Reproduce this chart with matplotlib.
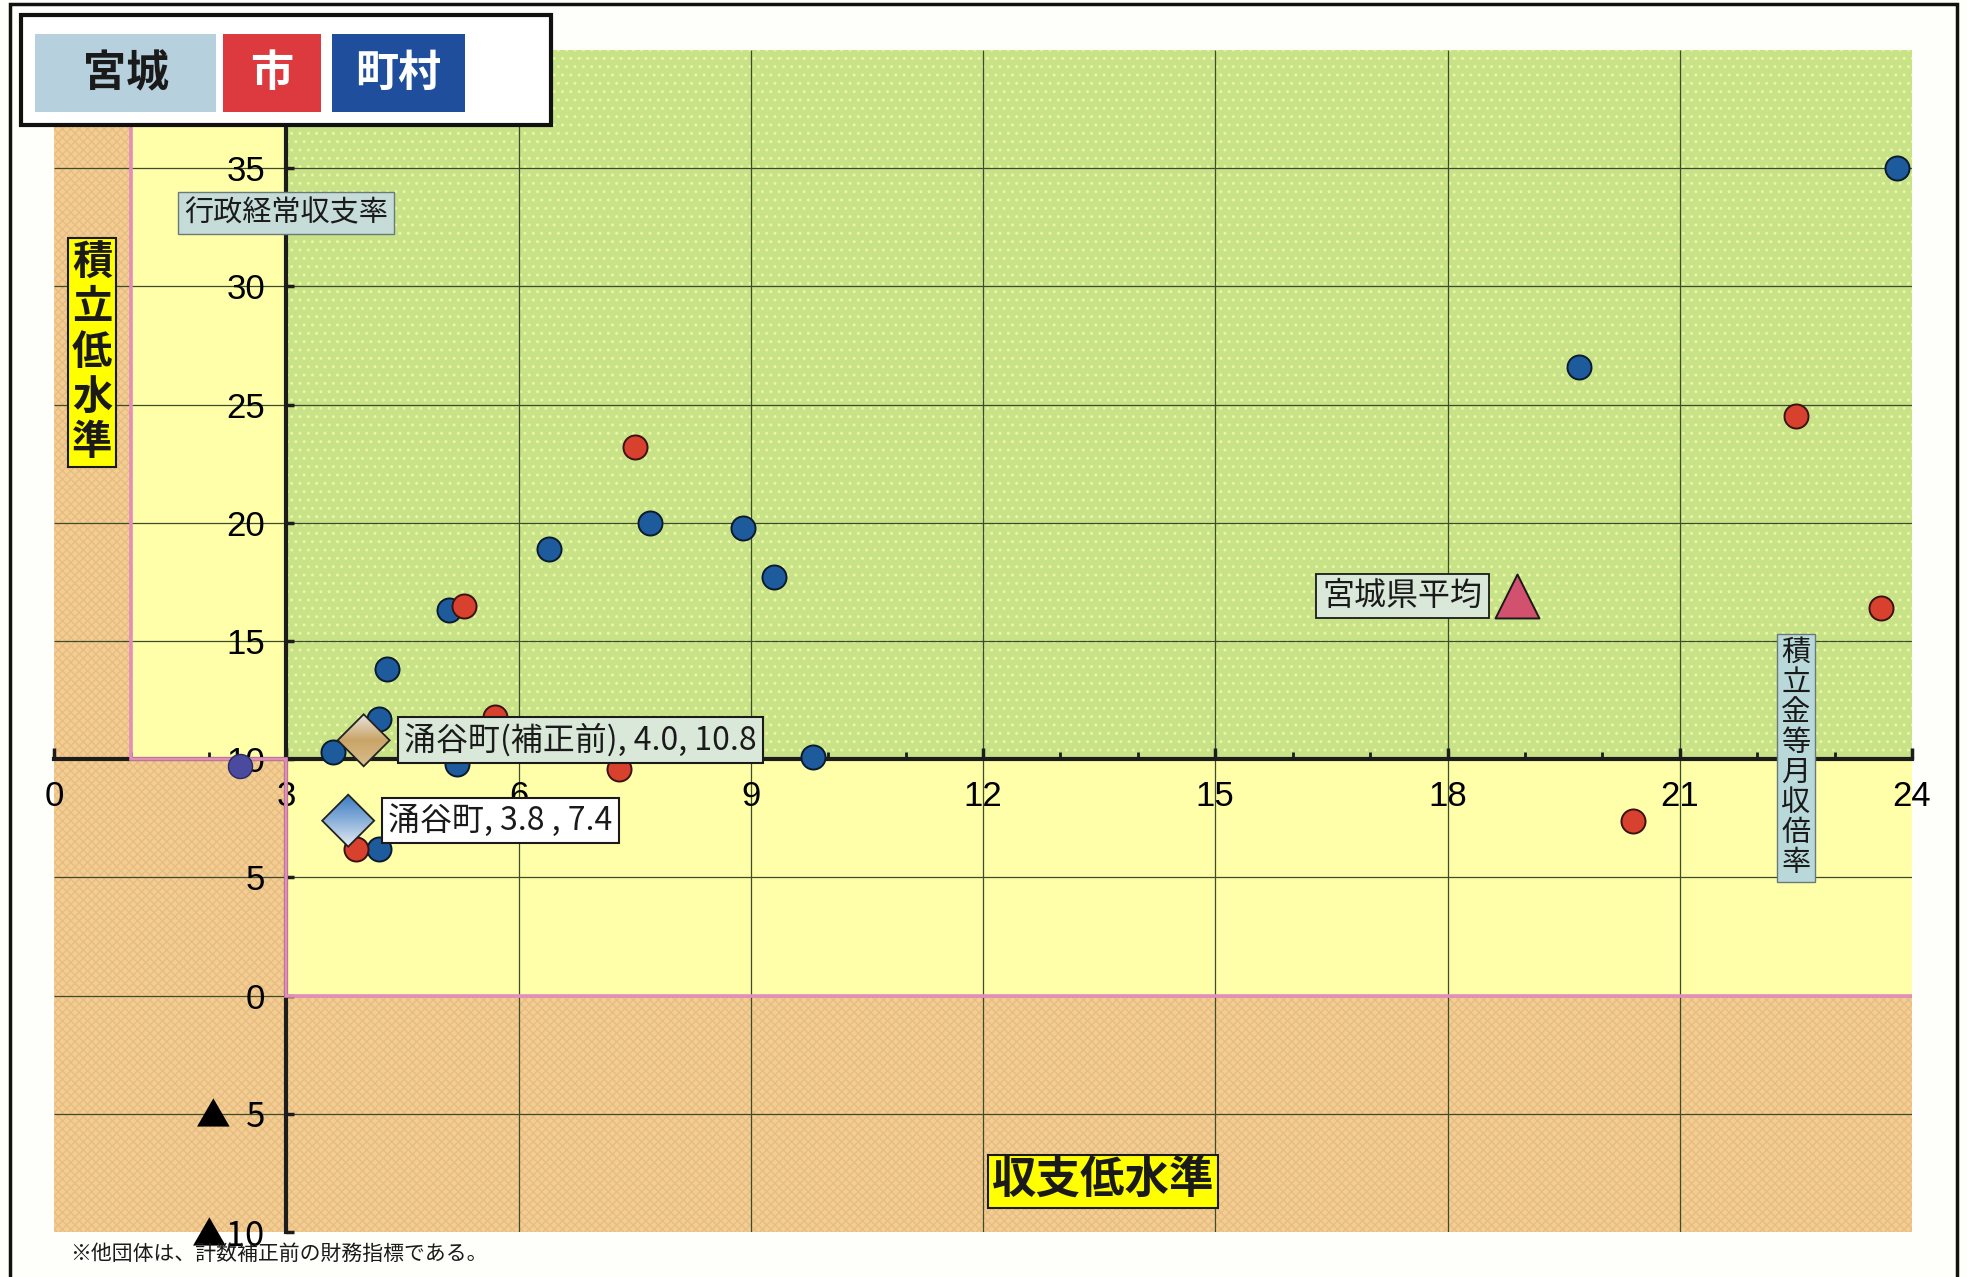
import numpy as np
import matplotlib
matplotlib.use("Agg")
import matplotlib.pyplot as plt
from matplotlib.patches import Rectangle, Polygon
from matplotlib.colors import LinearSegmentedColormap
from matplotlib.ticker import FixedLocator, MultipleLocator, FuncFormatter
from matplotlib import font_manager

# ---- data -------------------------------------------------------------
# 市 (cities)
city_x = [7.5, 22.5, 23.6, 5.3, 5.7, 7.3, 20.4, 3.9]
city_y = [23.2, 24.5, 16.4, 16.5, 11.8, 9.6, 7.4, 6.2]
# 町村 (towns and villages)
town_x = [23.8, 19.7, 7.7, 8.9, 6.4, 9.3, 5.1, 4.3, 4.2, 3.6, 9.8, 5.2, 4.2]
town_y = [35.0, 26.6, 20.0, 19.8, 18.9, 17.7, 16.3, 13.8, 11.7, 10.3, 10.1, 9.8, 6.2]
# town inside the low-reserve zone
low_x = [2.4]
low_y = [9.7]
# prefecture average
pref_avg_x, pref_avg_y = 18.9, 16.9
# 涌谷町 after / before adjustment
wakuya_x, wakuya_y = 3.8, 7.4
wakuya_pre_x, wakuya_pre_y = 4.0, 10.8

x_ticks = [0, 3, 6, 9, 12, 15, 18, 21, 24]
y_ticks = [-10, -5, 0, 5, 10, 15, 20, 25, 30, 35]
x_lim = (0, 24)
y_lim = (-10, 40)

# zone thresholds
reserve_low = 1     # 積立金等月収倍率 lower level (in the upper half)
axis_x = 3          # 積立金等月収倍率 axis crossing
axis_y = 10         # 行政経常収支率 axis crossing
balance_low = 0     # 収支低水準

# ---- fonts ------------------------------------------------------------
names = {f.name for f in font_manager.fontManager.ttflist}
num_font = "Liberation Sans Narrow" if "Liberation Sans Narrow" in names else "Liberation Sans"
JP = ["Noto Sans CJK JP", "DejaVu Sans"]
NUM = [num_font, "DejaVu Sans"]
plt.rcParams["font.family"] = JP

# ---- colours ----------------------------------------------------------
GREEN = "#C8E288"
YELLOW = "#FFFFAA"
ORANGE = "#F3CD92"
PINK = "#E38DBB"
GRID = "#3E4C2A"
RED = "#D9412F"
BLUE = "#1E5B9D"
PURPLE = "#4A4B9E"

W, H = 1967, 1277
fig = plt.figure(figsize=(W / 100, H / 100), dpi=100)
fig.patch.set_facecolor("#FEFEFB")
ax = fig.add_axes([54 / W, 1 - 1232 / H, (1912 - 54) / W, (1232 - 50) / H])
ax.set_xlim(*x_lim)
ax.set_ylim(*y_lim)
ax.set_facecolor("none")

# ---- background zones -------------------------------------------------
x0, x1 = x_lim
y0, y1 = y_lim
orange_zones = [
    (x0, y0, x1 - x0, balance_low - y0),
    (x0, balance_low, axis_x - x0, axis_y - balance_low),
    (x0, axis_y, reserve_low - x0, y1 - axis_y),
]
yellow_zones = [
    (axis_x, balance_low, x1 - axis_x, axis_y - balance_low),
    (reserve_low, axis_y, axis_x - reserve_low, y1 - axis_y),
]
for (zx, zy, zw, zh) in orange_zones:
    ax.add_patch(Rectangle((zx, zy), zw, zh, facecolor=ORANGE, edgecolor="#E7BD82",
                           lw=0, hatch="xxxx", zorder=0))
for (zx, zy, zw, zh) in yellow_zones:
    ax.add_patch(Rectangle((zx, zy), zw, zh, facecolor=YELLOW, lw=0, zorder=0))
ax.add_patch(Rectangle((axis_x, axis_y), x1 - axis_x, y1 - axis_y, facecolor=GREEN,
                       edgecolor="#EDF5A0", lw=0, hatch="..", zorder=0))

# grid lines
ax.vlines([v for v in x_ticks if x0 < v < x1], y0, y1, color=GRID, lw=0.9, zorder=1)
ax.hlines([v for v in y_ticks if y0 < v < y1], x0, x1, color=GRID, lw=0.9, zorder=1)

# ---- axes through the centre -----------------------------------------
for side in ("top", "right"):
    ax.spines[side].set_visible(False)
ax.spines["left"].set_position(("data", axis_x))
ax.spines["bottom"].set_position(("data", axis_y))
for side in ("left", "bottom"):
    ax.spines[side].set_linewidth(3)
    ax.spines[side].set_color("#1C1C1C")

ax.xaxis.set_major_locator(FixedLocator(x_ticks))
ax.xaxis.set_minor_locator(MultipleLocator(1))
ax.yaxis.set_major_locator(FixedLocator(y_ticks))
ax.tick_params(axis="x", which="major", direction="in", length=8, width=2.5,
               color="#1C1C1C", pad=15, labelsize=25)
ax.tick_params(axis="x", which="minor", direction="in", length=5, width=2,
               color="#1C1C1C")
ax.tick_params(axis="y", which="major", direction="in", length=6, width=2.5,
               color="#1C1C1C", pad=15, labelsize=25)
ax.xaxis.set_major_formatter(FuncFormatter(lambda v, p: f"{v:g}"))
# negative values are written with a leading ▲
ax.yaxis.set_major_formatter(
    FuncFormatter(lambda v, p: f"▲{abs(v):>2g}".replace("▲ ", "▲  ") if v < 0 else f"{v:g}"))
for lab in ax.get_xticklabels():
    lab.set_family(NUM)
for tick, value in zip(ax.yaxis.get_major_ticks(), y_ticks):
    tick.label1.set_family(JP if value < 0 else NUM)

# zone boundary line
ax.plot([reserve_low, reserve_low, axis_x, axis_x, x1],
        [y1, axis_y, axis_y, balance_low, balance_low],
        color=PINK, lw=2.6, zorder=3, solid_joinstyle="miter")

# ---- points -----------------------------------------------------------
ax.scatter(town_x, town_y, s=300, color=BLUE, edgecolor="#0B1A2C", lw=1.4, zorder=4)
ax.scatter(city_x, city_y, s=300, color=RED, edgecolor="#3A1210", lw=1.4, zorder=4)
ax.scatter(low_x, low_y, s=300, color=PURPLE, edgecolor="#2A2A60", lw=1.0, zorder=4)
ax.scatter([pref_avg_x], [pref_avg_y], s=1000, marker="^", color="#D2516F",
           edgecolor="#1A1A1A", lw=1.4, zorder=5)


def gradient_diamond(x, y, stops, half_px=26):
    inv = ax.transData.inverted()
    px, py = ax.transData.transform((x, y))
    xa, ya = inv.transform((px - half_px, py - half_px))
    xb, yb = inv.transform((px + half_px, py + half_px))
    poly = Polygon([(x, yb), (xb, y), (x, ya), (xa, y)], closed=True,
                   facecolor="none", edgecolor="#222222", lw=1.3, zorder=6)
    ax.add_patch(poly)
    cmap = LinearSegmentedColormap.from_list("grad", stops)
    grad = np.linspace(0, 1, 256).reshape(-1, 1)
    im = ax.imshow(grad, extent=[xa, xb, ya, yb], origin="lower", cmap=cmap,
                   aspect="auto", interpolation="bilinear", zorder=5.9)
    im.set_clip_path(poly)


gradient_diamond(wakuya_pre_x, wakuya_pre_y, ["#D9BE8E", "#C9A467", "#E9E6DE"])
gradient_diamond(wakuya_x, wakuya_y, ["#E6EDF3", "#8DB2DA", "#3C7CC3"])
ax.set_xlim(*x_lim)
ax.set_ylim(*y_lim)

# ---- point labels -----------------------------------------------------
ax.annotate("宮城県平均", (pref_avg_x, pref_avg_y), xytext=(-25, 0),
            textcoords="offset points", ha="right", va="center", fontsize=23,
            color="#1A1A1A", zorder=7,
            bbox=dict(boxstyle="square,pad=0.2", fc="#D9E8D9", ec="#1A1A1A", lw=1.3))
ax.annotate(f"涌谷町(補正前), {wakuya_pre_x:.1f}, {wakuya_pre_y:.1f}",
            (wakuya_pre_x, wakuya_pre_y), xytext=(29, 0), textcoords="offset points",
            ha="left", va="center", fontsize=23, color="#1A1A1A", zorder=7,
            bbox=dict(boxstyle="square,pad=0.2", fc="#D9E8D9", ec="#1A1A1A", lw=1.5))
ax.annotate(f"涌谷町, {wakuya_x:.1f} , {wakuya_y:.1f}",
            (wakuya_x, wakuya_y), xytext=(29, 0), textcoords="offset points",
            ha="left", va="center", fontsize=23, color="#1A1A1A", zorder=7,
            bbox=dict(boxstyle="square,pad=0.2", fc="#FFFFFF", ec="#1A1A1A", lw=1.5))

# ---- axis titles and zone names --------------------------------------
ax.text(3.0, 33.1, "行政経常収支率", ha="center", va="center", fontsize=21,
        color="#1A1A1A", zorder=7,
        bbox=dict(boxstyle="square,pad=0.2", fc="#C6DCD8", ec="#6A7A78", lw=1.0))
ax.text(22.5, 10.05, "\n".join("積立金等月収倍率"), ha="center", va="center",
        fontsize=21, linespacing=1.0, color="#1A1A1A", zorder=7,
        bbox=dict(boxstyle="square,pad=0.15", fc="#B9D8DA", ec="#6A7A78", lw=1.0))
ax.text(0.49, 27.2, "\n".join("積立低水準"), ha="center", va="center",
        fontsize=29, fontweight="bold", linespacing=1.12, color="#1A1A1A", zorder=7,
        bbox=dict(boxstyle="square,pad=0.1", fc="#FFFF00", ec="#1A1A1A", lw=1.5))
ax.text(13.55, -7.85, "収支低水準", ha="center", va="center", fontsize=32,
        fontweight="bold", color="#1A1A1A", zorder=7,
        bbox=dict(boxstyle="square,pad=0.08", fc="#FFFF00", ec="#1A1A1A", lw=1.5))

# ---- legend panel -----------------------------------------------------
fig.patches.append(Rectangle((21 / W, 1 - 125 / H), 530 / W, 110 / H,
                             transform=fig.transFigure, fc="#FFFFFF", ec="#111111",
                             lw=3, zorder=8))
legend_items = [
    ("宮城", 35, 216, "#B6D0DD", "#1A1A1A"),
    ("市", 223, 321, "#DC3A3E", "#FFFFFF"),
    ("町村", 332, 465, "#1F4F9C", "#FFFFFF"),
]
for label, lx0, lx1, fc, tc in legend_items:
    fig.patches.append(Rectangle((lx0 / W, 1 - 112 / H), (lx1 - lx0) / W, 78 / H,
                                 transform=fig.transFigure, fc=fc, ec="none", zorder=9))
    fig.text((lx0 + lx1) / 2 / W, 1 - 73 / H, label, ha="center", va="center",
             fontsize=31, fontweight="bold", color=tc, zorder=10)

# outer frame
fig.patches.append(Rectangle((10 / W, -0.01), (1957 - 10) / W, 1.01 - 4 / H,
                             transform=fig.transFigure, fc="none", ec="#111111",
                             lw=2.5, zorder=1))

# footnote
fig.text(70 / W, 1 - 1254 / H, "※他団体は、計数補正前の財務指標である。",
         ha="left", va="center", fontsize=15, color="#1A1A1A")

fig.savefig("out.png", dpi=100, facecolor=fig.get_facecolor())
